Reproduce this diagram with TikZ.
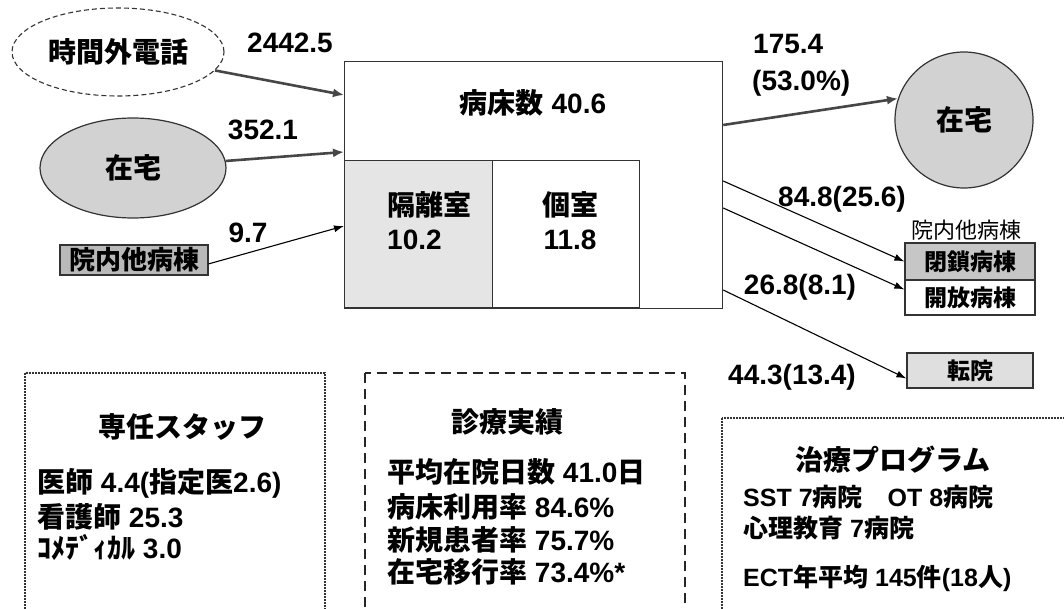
\documentclass[tikz,border=0pt]{standalone}
\usepackage{fontspec}
\setmainfont{Liberation Sans}
\newfontfamily\jp{Noto Sans CJK JP}
\newcommand\J[1]{{\jp #1}}
\usetikzlibrary{arrows.meta,shapes.geometric}
\begin{document}
\begin{tikzpicture}[x=1pt,y=-1pt,
  lbl/.style={font=\fontsize{28}{32}\selectfont\bfseries, inner sep=0pt},
  sml/.style={font=\fontsize{22}{26}\selectfont, inner sep=0pt},
  bigarrow/.style={line width=2.6pt, draw=gray!55!black, -{Latex[length=11pt,width=9pt]}},
  thinarrow/.style={line width=1.1pt, draw=black, -{Latex[length=10pt,width=7pt]}},
  dotbox/.style={line width=1.6pt, dash pattern=on 1.6pt off 1.4pt, draw=black!80},
  dashbox/.style={line width=1.6pt, dash pattern=on 10pt off 6pt, draw=black!85},
  box/.style={draw=black!80, line width=1.2pt, inner sep=0pt}
]
\useasboundingbox (0,0) rectangle (1064,609);
\clip (0,0) rectangle (1064,609);

% left sources
\node[ellipse, draw=black!80, line width=1.1pt, dash pattern=on 5pt off 3pt, minimum width=212, minimum height=88, lbl] (tel) at (118,52) {\J{時間外電話}};
\node[ellipse, draw=black!80, line width=1.2pt, fill=gray!35, minimum width=186, minimum height=100, lbl] (home) at (133,168) {\J{在宅}};
\node[box, fill=gray!55, minimum width=148, minimum height=30, lbl, font=\fontsize{26}{30}\selectfont\bfseries] (ward) at (134,260) {\J{院内他病棟}};

% main box
\node[box, minimum width=378, minimum height=247, anchor=north west] (main) at (344,61) {};
\node[box, fill=gray!20, minimum width=148, minimum height=147, anchor=south west] (iso) at (344,308) {};
\node[box, fill=white, minimum width=147, minimum height=147, anchor=south west] (priv) at (492,308) {};
\node[lbl] (beds) at (533,103) {\J{病床数} 40.6};
\node[lbl, anchor=west] (isot) at (387,205) {\J{隔離室}};
\node[lbl, anchor=west] (ison) at (387,240) {10.2};
\node[lbl] (privt) at (570,205) {\J{個室}};
\node[lbl] (privn) at (570,240) {11.8};

% right targets
\node[ellipse, draw=black!80, line width=1.2pt, fill=gray!35, minimum width=138, minimum height=136, lbl] (home2) at (964,120) {\J{在宅}};
\node[sml] (wardt) at (966,230) {\J{院内他病棟}};
\node[box, fill=gray!45, minimum width=130, minimum height=37, lbl, font=\fontsize{23}{27}\selectfont\bfseries] (closed) at (970,261.5) {\J{閉鎖病棟}};
\node[box, fill=white, minimum width=130, minimum height=35, lbl, font=\fontsize{23}{27}\selectfont\bfseries] (open) at (970,297.5) {\J{開放病棟}};
\node[box, fill=gray!25, minimum width=126, minimum height=35, lbl, font=\fontsize{23}{27}\selectfont\bfseries] (trans) at (970,370.5) {\J{転院}};

% flow labels
\node[lbl] (l1) at (290,43) {2442.5};
\node[lbl] (l2) at (263,130) {352.1};
\node[lbl] (l3) at (248,233) {9.7};
\node[lbl, anchor=west] (l4a) at (753,44) {175.4};
\node[lbl, anchor=west] (l4b) at (752,83) {(53.0\%)};
\node[lbl] (l5) at (842,199) {84.8(25.6)};
\node[lbl] (l6) at (800,287) {26.8(8.1)};
\node[lbl] (l7) at (792,377) {44.3(13.4)};

% arrows in
\draw[bigarrow] (tel) -- ([yshift=-34pt]main.north west);
\draw[bigarrow] (home) -- ([yshift=-91pt]main.north west);
\draw[thinarrow] (ward.-3) -- ([yshift=-165pt]main.north west);
% arrows out
\draw[bigarrow] ([yshift=-64pt]main.north east) -- (home2.162);
\draw[thinarrow] ([yshift=-120pt]main.north east) -- (closed.west);
\draw[thinarrow] ([yshift=-147pt]main.north east) -- ([yshift=8pt]open.west);
\draw[thinarrow] ([yshift=-229pt]main.north east) -- ([yshift=-8pt]trans.west);

% bottom panels
\draw[dotbox] (25,373) rectangle (325,640);
\draw[dashbox] (365,373) rectangle (685,640);
\draw[dotbox] (722,418) rectangle (1090,640);

\node[lbl] (st) at (182,427) {\J{専任スタッフ}};
\node[lbl, anchor=west] (s1) at (37,483) {\J{医師} 4.4(\J{指定医}2.6)};
\node[lbl, anchor=west] (s2) at (37,517) {\J{看護師} 25.3};
\node[lbl, anchor=west] (s3) at (37,547) {\J{ｺﾒﾃﾞｨｶﾙ} 3.0};

\node[lbl] (rt) at (507,422) {\J{診療実績}};
\node[lbl, anchor=west] (r1) at (387,472) {\J{平均在院日数} 41.0\J{日}};
\node[lbl, anchor=west] (r2) at (387,507) {\J{病床利用率} 84.6\%};
\node[lbl, anchor=west] (r3) at (387,540) {\J{新規患者率} 75.7\%};
\node[lbl, anchor=west] (r4) at (387,572) {\J{在宅移行率} 73.4\%*};

\node[lbl] (pt) at (893,460) {\J{治療プログラム}};
\node[lbl, anchor=west, font=\fontsize{25}{29}\selectfont\bfseries] (p1) at (743,497) {SST 7\J{病院}\quad OT 8\J{病院}};
\node[lbl, anchor=west, font=\fontsize{25}{29}\selectfont\bfseries] (p2) at (743,528) {\J{心理教育} 7\J{病院}};
\node[lbl, anchor=west, font=\fontsize{25}{29}\selectfont\bfseries] (p3) at (743,578) {ECT\J{年平均} 145\J{件}(18\J{人})};
\end{tikzpicture}
\end{document}
